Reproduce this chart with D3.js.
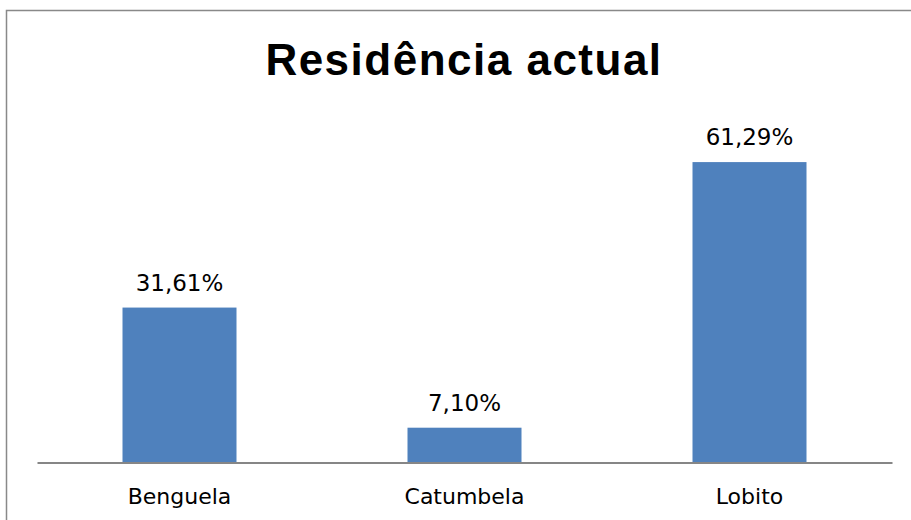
<!DOCTYPE html>
<html>
<head>
<meta charset="utf-8">
<script src="https://cdn.jsdelivr.net/npm/d3@7"></script>
<style>
  html, body { margin: 0; padding: 0; background: #fff; }
  svg { display: block; }
</style>
</head>
<body>
<svg id="chart" width="911" height="520"></svg>
<script>
const title = "Residência actual";
const categories = ["Benguela", "Catumbela", "Lobito"];
const values = [31.61, 7.10, 61.29];
const valueLabels = ["31,61%", "7,10%", "61,29%"];

const svg = d3.select("#chart");
const W = 911, H = 520;

// outer chart border
svg.append("rect")
  .attr("x", 6.5).attr("y", 10.5)
  .attr("width", 920).attr("height", 540)
  .attr("fill", "#fff")
  .attr("stroke", "#898989").attr("stroke-width", 1.5);

const plot = { left: 37, right: 892, top: 119.4, bottom: 462.5 };

const x = d3.scaleBand()
  .domain(categories)
  .range([plot.left, plot.right])
  .paddingInner(0.6)
  .paddingOuter(0.3);

const y = d3.scaleLinear()
  .domain([0, 70])
  .range([plot.bottom, plot.top]);

// bars
svg.append("g").selectAll("rect")
  .data(categories)
  .join("rect")
  .attr("x", d => x(d))
  .attr("y", (d, i) => y(values[i]))
  .attr("width", x.bandwidth())
  .attr("height", (d, i) => y(0) - y(values[i]))
  .attr("fill", "#4F81BD");

// axis line
const xAxis = d3.axisBottom(x).tickSize(0).tickPadding(0);
const gx = svg.append("g")
  .attr("transform", `translate(0,${plot.bottom})`)
  .call(xAxis);
gx.select(".domain").attr("stroke", "#868686").attr("stroke-width", 2);
gx.selectAll(".tick text")
  .attr("y", 41)
  .attr("dy", null)
  .attr("font-family", "DejaVu Sans")
  .attr("font-size", 22)
  .attr("fill", "#000");

// value labels
svg.append("g").selectAll("text")
  .data(categories)
  .join("text")
  .attr("x", d => x(d) + x.bandwidth() / 2)
  .attr("y", (d, i) => y(values[i]) - 17)
  .attr("text-anchor", "middle")
  .attr("font-family", "DejaVu Sans")
  .attr("font-size", 23)
  .attr("fill", "#000")
  .text((d, i) => valueLabels[i]);

// title
svg.append("text")
  .attr("x", 464)
  .attr("y", 75)
  .attr("text-anchor", "middle")
  .attr("font-family", "Liberation Sans, Arial, sans-serif")
  .attr("font-weight", "bold")
  .attr("font-size", 44)
  .attr("letter-spacing", 1.5)
  .attr("fill", "#000")
  .text(title);
</script>
</body>
</html>
